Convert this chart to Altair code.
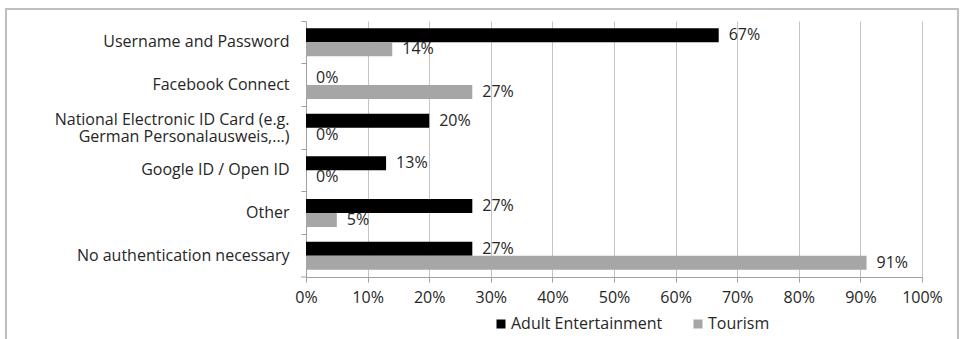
import altair as alt
import pandas as pd

categories = [
    "Username and Password",
    "Facebook Connect",
    "National Electronic ID Card (e.g.|German Personalausweis,...)",
    "Google ID / Open ID",
    "Other",
    "No authentication necessary",
]
series = ["Adult Entertainment", "Tourism"]
adult = [67, 0, 20, 13, 27, 27]
tourism = [14, 27, 0, 0, 5, 91]
colors = ["#000000", "#a6a6a6"]

rows = []
for c, a, t in zip(categories, adult, tourism):
    rows.append({"Category": c, "Series": series[0], "Value": a / 100})
    rows.append({"Category": c, "Series": series[1], "Value": t / 100})
df = pd.DataFrame(rows)

FONT = "Open Sans"
FS = 16
TXT = "#262626"

W, H = 616, 256

y_enc = alt.Y(
    "Category:N",
    sort=categories,
    scale=alt.Scale(paddingInner=0, paddingOuter=0),
    axis=alt.Axis(
        title=None,
        labelExpr="split(datum.label, '|')",
        labelFont=FONT,
        labelFontSize=FS,
        labelColor=TXT,
        labelPadding=12,
        labelOffset={
            "condition": {"test": "indexof(datum.value, '|') >= 0", "value": -8},
            "value": 0,
        },
        tickSize=5,
        tickColor="#a0a0a0",
        bandPosition=0,
        domainColor="#a0a0a0",
        grid=False,
        labelLimit=300,
    ),
)
yoff = alt.YOffset(
    "Series:N",
    sort=series,
    scale=alt.Scale(paddingInner=0, paddingOuter=0.525),
)
x_enc = alt.X(
    "Value:Q",
    scale=alt.Scale(domain=[0, 1], nice=False),
    axis=alt.Axis(
        title=None,
        format="%",
        values=[i / 10 for i in range(11)],
        labelFont=FONT,
        labelFontSize=FS,
        labelColor=TXT,
        labelPadding=7,
        labelFlush=False,
        labelOverlap=False,
        tickSize=5,
        tickColor="#a0a0a0",
        domainColor="#a0a0a0",
        gridColor="#c4c4c4",
        gridWidth=1,
    ),
)
color_enc = alt.Color(
    "Series:N",
    sort=series,
    scale=alt.Scale(domain=series, range=colors),
    legend=alt.Legend(
        title=None,
        orient="none",
        direction="horizontal",
        legendX=187,
        legendY=295,
        padding=0,
        symbolType="square",
        symbolSize=81,
        symbolStrokeWidth=0,
        labelFont=FONT,
        labelFontSize=FS,
        labelColor=TXT,
        labelOffset=2,
        columnPadding=27,
    ),
)

base = alt.Chart(df)
bars = base.mark_bar(size=14).encode(y=y_enc, yOffset=yoff, x=x_enc, color=color_enc)
labels = base.mark_text(
    align="left", baseline="middle", dx=10, font=FONT, fontSize=FS, color=TXT
).encode(
    y=alt.Y("Category:N", sort=categories),
    yOffset=alt.YOffset("Series:N", sort=series),
    x=alt.X("Value:Q"),
    text=alt.Text("Value:Q", format=".0%"),
)

frame = alt.Chart(alt.Data(values=[{}])).mark_rect(
    fill=None, stroke="#bfbfbf", strokeWidth=2
).encode(
    x=alt.value(-300), x2=alt.value(652), y=alt.value(-12), y2=alt.value(345)
)
bottom_tick = alt.Chart(alt.Data(values=[{}])).mark_rule(
    color="#a0a0a0", strokeWidth=1
).encode(x=alt.value(-5), x2=alt.value(0), y=alt.value(H))

chart = (
    alt.layer(bars, labels, frame, bottom_tick)
    .resolve_scale(y="shared")
    .properties(
        width=W,
        height=H,
        autosize=alt.AutoSizeParams(type="none"),
        padding={"left": 306, "top": 21, "right": 39, "bottom": 62},
        background="white",
    )
    .configure_view(stroke=None)
    .configure_axisY(labelLineHeight=17)
)

chart.save("out.html", embed_options={"renderer": "svg", "actions": False})
